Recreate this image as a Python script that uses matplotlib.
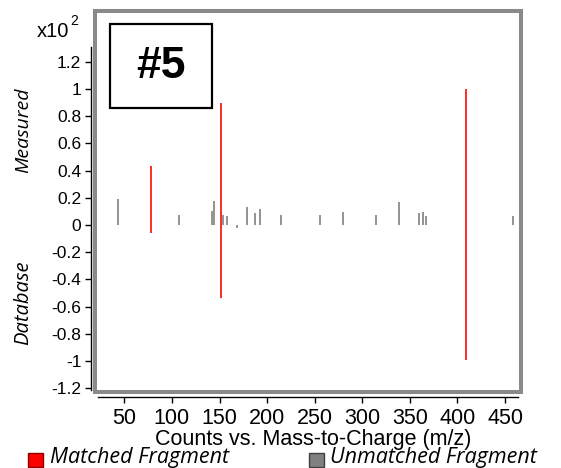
import numpy as np
import matplotlib
matplotlib.use('Agg')
import matplotlib.pyplot as plt
from matplotlib.patches import Rectangle

plt.rcParams['axes.unicode_minus'] = False

# 匹配碎片 (红) : m/z, 实测, 数据库
matched_mz = [77.7, 151.3, 408.7]
matched_meas = [43.6, 90.0, 100.0]
matched_db = [-6.0, -53.7, -99.3]

# 未匹配碎片 (灰) : m/z, 实测
unmatched_mz = [43.7, 107.8, 141.8, 144.3, 153.4, 157.6, 168.7, 178.6, 187.3, 192.6,
                214.6, 255.6, 280.1, 314.1, 338.6, 359.3, 364.2, 366.7, 458.7]
unmatched_meas = [19.0, 7.4, 10.5, 17.6, 7.4, 6.6, -2.0, 13.0, 8.6, 11.5,
                  7.4, 7.4, 9.8, 7.4, 16.7, 9.0, 9.8, 6.6, 6.6]

yticks = [1.2, 1, 0.8, 0.6, 0.4, 0.2, 0, -0.2, -0.4, -0.6, -0.8, -1, -1.2]
xticks = [50, 100, 150, 200, 250, 300, 350, 400, 450]

W, H = 561, 468
fig = plt.figure(figsize=(W / 100, H / 100), dpi=100)
ax = fig.add_axes([95.3 / W, 1 - 391.5 / H, (521.5 - 95.3) / W, (391.5 - 11) / H])
ax.set_xlim(19.5, 467.3)
ax.set_ylim(-1.224, 1.574)

# 竖线
ax.vlines(unmatched_mz, 0, np.array(unmatched_meas) / 100, color='#8a8a8a', lw=1.3)
ax.vlines(matched_mz, np.array(matched_db) / 100, np.array(matched_meas) / 100, color='#ff1a1a', lw=1.3)

# 坐标轴
for s in ['top', 'right']:
    ax.spines[s].set_visible(False)
ax.spines['left'].set_position(('outward', 3.1))
ax.spines['left'].set_bounds(-1.21, 1.31)
ax.spines['bottom'].set_position(('outward', 4.3))
ax.spines['bottom'].set_bounds(22.8, 463.6)
ax.spines['left'].set_linewidth(1)
ax.spines['bottom'].set_linewidth(1)
ax.set_yticks(yticks)
ax.set_yticklabels([('%g' % v) for v in yticks], fontfamily='Liberation Sans', fontsize=12.5)
ax.set_xticks(xticks)
ax.set_xticklabels([str(v) for v in xticks], fontfamily='Liberation Sans', fontsize=15.5)
ax.tick_params(axis='y', length=4, width=1, pad=3)
ax.tick_params(axis='x', length=4, width=1, pad=3.5)

# 灰色外框
ax.add_patch(Rectangle((0, 0), 1, 1, transform=ax.transAxes, fill=False,
                       edgecolor='#8a8a8a', lw=2.9, clip_on=False, zorder=5))

# #5 标签框
fig.add_artist(Rectangle((110 / W, 1 - 108 / H), 102 / W, 84 / H, transform=fig.transFigure,
                         fill=False, edgecolor='black', lw=1.6))
fig.text(161 / W, 1 - 66 / H, '#5', ha='center', va='center', fontsize=32,
         fontweight='bold', fontfamily='Liberation Sans')

# x10^2
fig.text(37 / W, 1 - 37 / H, 'x10', ha='left', va='baseline', fontsize=14.5, fontfamily='Liberation Sans')
fig.text(70 / W, 1 - 25 / H, '2', ha='left', va='baseline', fontsize=10, fontfamily='Liberation Sans')

# 轴标签
fig.text(23 / W, 1 - 130 / H, 'Measured', rotation=90, ha='center', va='center',
         fontsize=14, style='italic', fontfamily='Open Sans')
fig.text(23 / W, 1 - 303 / H, 'Database', rotation=90, ha='center', va='center',
         fontsize=14.5, style='italic', fontfamily='Open Sans')
fig.text(313.5 / W, 1 - 445 / H, 'Counts vs. Mass-to-Charge (m/z)', ha='center', va='baseline',
         fontsize=15.5, fontfamily='Liberation Sans')

# 图例
fig.add_artist(Rectangle((28 / W, 1 - 467 / H), 15 / W, 14 / H, transform=fig.transFigure,
                         facecolor='#ff0000', edgecolor='#8b0000', lw=1))
fig.text(50 / W, 1 - 463 / H, 'Matched Fragment', ha='left', va='baseline',
         fontsize=15.5, style='italic', fontfamily='Open Sans')
fig.add_artist(Rectangle((309 / W, 1 - 467 / H), 15 / W, 14 / H, transform=fig.transFigure,
                         facecolor='#808080', edgecolor='#404040', lw=1))
fig.text(330 / W, 1 - 463 / H, 'Unmatched Fragment', ha='left', va='baseline',
         fontsize=15.5, style='italic', fontfamily='Open Sans')

plt.savefig('out.png', dpi=100)
